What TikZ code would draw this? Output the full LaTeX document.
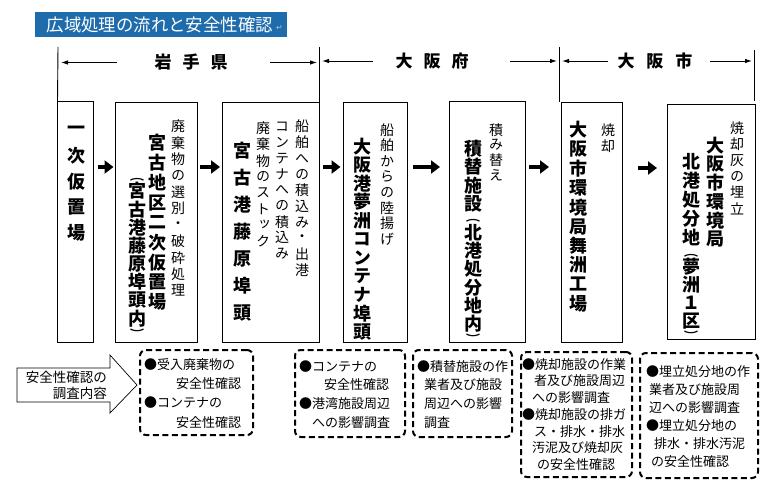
\documentclass[tikz,border=0pt]{standalone}
\usepackage{fontspec}
\usepackage{graphicx}
\setmainfont{Noto Sans CJK JP}
\newfontfamily\jpv[RawFeature=+vert]{Noto Sans CJK JP}
\newfontfamily\djv{DejaVu Sans}
\usetikzlibrary{arrows.meta}
\definecolor{tblue}{RGB}{30,108,172}
\newcommand\vcell[2]{\hbox to 1em{\hss\vbox to #1{\vss\hbox{#2}\vss}\hss}}
\ExplSyntaxOn
\NewDocumentCommand\V{mm}{\tl_map_inline:nn{#2}{\vcell{#1}{##1}}}
\ExplSyntaxOff
\newcommand\Col[1]{\vbox{\offinterlineskip#1}}
\newcommand\vpar[2]{\vcell{#1}{\scalebox{1.6}[1]{\fontsize{9}{9}\selectfont\rule[-0.12em]{0pt}{1em}#2}}}
\begin{document}
\begin{tikzpicture}[x=1pt,y=-1pt,
  mbox/.style={draw=black, line width=1pt, inner sep=0pt, outer sep=0pt},
  col/.style={anchor=north, inner sep=0pt, outer sep=0pt},
  sv/.style={col, font=\jpv\fontsize{14}{14}\selectfont},
  bv/.style={col, font=\jpv\bfseries\fontsize{18}{18}\selectfont},
  fat/.style={line width=4pt, -{Triangle[length=9pt,width=13pt]}},
  hdr/.style={line width=0.9pt, -{Latex[length=7pt,width=4.5pt]}},
  region/.style={font=\bfseries\fontsize{17}{17}\selectfont, inner sep=0pt},
  dbox/.style={draw=black, line width=2pt, dash pattern=on 6pt off 3.5pt, rounded corners=6pt, inner sep=0pt},
  dtext/.style={anchor=north west, inner sep=0pt, align=left},
]
\useasboundingbox (0,0) rectangle (770,489);
\fill[white] (0,0) rectangle (770,489);

% title
\node[fill=tblue, minimum width=252pt, minimum height=25pt, inner sep=0pt, anchor=north west] (title) at (35,12) {};
\node[anchor=west, text=white, inner sep=0pt, font=\fontsize{17.4}{17.4}\selectfont] (ttext) at (46.5,24.5) {広域処理の流れと安全性確認};
\node[anchor=west, text=black!25, inner sep=0pt, font=\djv\fontsize{8}{8}\selectfont] (tret) at (276,28) {↵};

% main boxes
\node[mbox, minimum width=35.5pt, minimum height=240pt] (b1) at (75.25,222) {};
\node[mbox, minimum width=82pt, minimum height=239.5pt] (b2) at (156,222.25) {};
\node[mbox, minimum width=97pt, minimum height=239pt] (b3) at (270.5,222.5) {};
\node[mbox, minimum width=64pt, minimum height=239pt] (b4) at (375,222.5) {};
\node[mbox, minimum width=76pt, minimum height=240pt] (b5) at (487,222) {};
\node[mbox, minimum width=61pt, minimum height=239pt] (b6) at (591.5,222.5) {};
\node[mbox, minimum width=88pt, minimum height=234pt] (b7) at (711,222) {};

% header
\coordinate (v1) at (58,47);
\coordinate (v2) at (319,47);
\coordinate (v3) at (559,47);
\coordinate (v4) at (754,50);
\draw[line width=0.9pt] (v1) -- (b1.north west);
\draw[line width=0.9pt] (v2) -- (b3.north east);
\draw[line width=0.9pt] (v3) -- (559,102);
\draw[line width=0.9pt] (v4) -- (754,101);

\node[region] (iw) at (191,62.5) {岩\hspace{11pt}手\hspace{11pt}県};
\node[region] (of) at (432,61) {大\hspace{11pt}阪\hspace{11pt}府};
\node[region] (oc) at (655,61) {大\hspace{12pt}阪\hspace{12pt}市};
\coordinate (h1a) at (117,62.5); \coordinate (h1b) at (61,62.5);
\coordinate (h2a) at (270,62.5); \coordinate (h2b) at (317,62.5);
\coordinate (h3a) at (373,61); \coordinate (h3b) at (322,61);
\coordinate (h4a) at (510,61); \coordinate (h4b) at (557,61);
\coordinate (h5a) at (608,61); \coordinate (h5b) at (562,61);
\coordinate (h6a) at (710,61); \coordinate (h6b) at (752,61);
\draw[hdr] (h1a) -- (h1b);
\draw[hdr] (h2a) -- (h2b);
\draw[hdr] (h3a) -- (h3b);
\draw[hdr] (h4a) -- (h4b);
\draw[hdr] (h5a) -- (h5b);
\draw[hdr] (h6a) -- (h6b);

% flow arrows
\coordinate (a1s) at (98,167);  \coordinate (a1e) at (113.5,167);
\coordinate (a2s) at (200,167); \coordinate (a2e) at (220,167);
\coordinate (a3s) at (323,167); \coordinate (a3e) at (340.5,167);
\coordinate (a4s) at (413,167); \coordinate (a4e) at (440,167);
\coordinate (a5s) at (529,167); \coordinate (a5e) at (549,167);
\coordinate (a6s) at (638,168); \coordinate (a6e) at (657,168);
\draw[fat] (a1s) -- (a1e);
\draw[fat] (a2s) -- (a2e);
\draw[fat] (a3s) -- (a3e);
\draw[fat] (a4s) -- (a4e);
\draw[fat] (a5s) -- (a5e);
\draw[fat] (a6s) -- (a6e);

% vertical texts
\node[bv] (t1) at (76,117) {\Col{\V{25.8pt}{一次仮置場}}};

\node[sv] (t2a) at (178,118.3) {\Col{\V{16.4pt}{廃棄物の選別・破砕処理}}};
\node[bv] (t2b) at (157,133) {\Col{\V{19.9pt}{宮古地区二次仮置場}}};
\node[bv] (t2c) at (137,172) {\Col{\vpar{10pt}{︵}\V{18.2pt}{宮古港藤原埠頭内}\vpar{10pt}{︶}}};

\node[sv] (t3a) at (302,118.5) {\Col{\V{16pt}{船舶への積込み・出港}}};
\node[sv] (t3b) at (282,118.5) {\Col{\V{15.9pt}{コンテナへの積込み}}};
\node[sv] (t3c) at (263,120.5) {\Col{\V{16.1pt}{廃棄物のストック}}};
\node[bv] (t3d) at (242,137.5) {\Col{\V{27pt}{宮古港藤原埠頭}}};

\node[sv] (t4a) at (387,122.2) {\Col{\V{15.6pt}{船舶からの陸揚げ}}};
\node[bv] (t4b) at (362,137.2) {\Col{\V{18.55pt}{大阪港夢洲コンテナ埠頭}}};

\node[sv] (t5a) at (496,122.5) {\Col{\V{15pt}{積み替え}}};
\node[bv] (t5b) at (473,139) {\Col{\V{18.5pt}{積替施設}\vpar{10.5pt}{︵}\V{18.3pt}{北港処分地内}\vpar{9.5pt}{︶}}};

\node[sv] (t6a) at (608,122) {\Col{\V{16pt}{焼却}}};
\node[bv] (t6b) at (578.5,120.4) {\Col{\V{19.3pt}{大阪市環境局舞洲工場}}};

\node[sv] (t7a) at (737,120.5) {\Col{\V{16pt}{焼却灰の埋立}}};
\node[bv] (t7b) at (715,136) {\Col{\V{18.8pt}{大阪市環境局}}};
\node[bv] (t7c) at (691,152) {\Col{\V{19.1pt}{北港処分地}\vpar{10.5pt}{︵}\V{18pt}{夢洲１区}\vpar{9.5pt}{︶}}};

% bottom: block arrow
\draw[line width=0.7pt, fill=white] (17,368) -- (110,368) -- (110,355) -- (137,385) -- (110,413) -- (110,402) -- (17,402) -- cycle;
\node[anchor=north east, inner sep=0pt, align=right, font=\fontsize{13.5}{16}\selectfont] (q) at (107,370) {\rule{0pt}{12pt}安全性確認の\\調査内容};

% dashed boxes
\node[dbox, minimum width=113pt, minimum height=85pt] (d1) at (196.5,392.5) {};
\node[dbox, minimum width=110pt, minimum height=87pt] (d2) at (350,393.5) {};
\node[dbox, minimum width=99pt, minimum height=87pt] (d3) at (462.5,393.5) {};
\node[dbox, minimum width=111pt, minimum height=125pt] (d4) at (576.5,414.5) {};
\node[dbox, minimum width=118pt, minimum height=125pt] (d5) at (699,415.5) {};

\node[dtext, font=\fontsize{13}{19.3}\selectfont] (d1t) at (144,357) {\rule{0pt}{12pt}●受入廃棄物の\\\hspace*{32pt}安全性確認\\●コンテナの\\\hspace*{32pt}安全性確認};
\node[dtext, font=\fontsize{13}{18.7}\selectfont] (d2t) at (299,359) {\rule{0pt}{12pt}●コンテナの\\\hspace*{25pt}安全性確認\\●港湾施設周辺\\\hspace*{13pt}への影響調査};
\node[dtext, font=\fontsize{13}{18.7}\selectfont] (d3t) at (417,359) {\rule{0pt}{12pt}●積替施設の作\\\hspace*{7pt}業者及び施設\\\hspace*{7pt}周辺への影響\\\hspace*{7pt}調査};
\node[dtext, font=\fontsize{13}{16.7}\selectfont] (d4t) at (522,357) {\rule{0pt}{12pt}●焼却施設の作業\\\hspace*{12pt}者及び施設周辺\\\hspace*{10pt}への影響調査\\●焼却施設の排ガ\\\hspace*{12pt}ス・排水・排水\\\hspace*{10pt}汚泥及び焼却灰\\\hspace*{15pt}の安全性確認};
\node[dtext, font=\fontsize{13}{18}\selectfont] (d5t) at (646,364) {\rule{0pt}{12pt}●埋立処分地の作\\\hspace*{3pt}業者及び施設周\\\hspace*{3pt}辺への影響調査\\●埋立処分地の\\\hspace*{8pt}排水・排水汚泥\\\hspace*{5pt}の安全性確認};
\end{tikzpicture}
\end{document}
